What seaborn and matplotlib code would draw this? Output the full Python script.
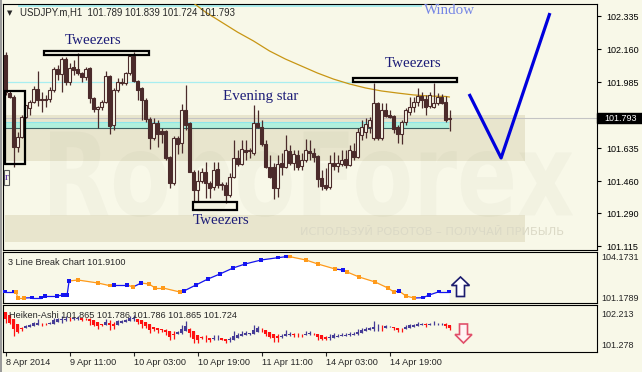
import numpy as np
import pandas as pd
import matplotlib
matplotlib.use("Agg")
import matplotlib.pyplot as plt
import seaborn as sns
from matplotlib.patches import Rectangle, Polygon, PathPatch
from matplotlib.textpath import TextPath
from matplotlib.font_manager import FontProperties
from matplotlib.transforms import Affine2D, blended_transform_factory

# ---------------- data ----------------
chart_title = "USDJPY.m,H1  101.789 101.839 101.724 101.793"
opens = [102.129, 101.927, 101.906, 101.641, 101.694, 101.800, 101.848, 101.879, 101.948, 101.895,
         101.895, 101.895, 101.943, 102.054, 102.028, 102.107, 101.985, 102.065, 102.054, 102.033,
         102.012, 102.060, 101.901, 101.842, 101.853, 101.879, 102.017, 101.758, 101.943, 101.985,
         101.980, 102.033, 102.123, 101.991, 101.954, 101.890, 101.789, 101.689, 101.768, 101.726,
         101.726, 101.588, 101.450, 101.689, 101.662, 101.837, 101.768, 101.508, 101.413, 101.461,
         101.508, 101.450, 101.429, 101.524, 101.445, 101.440, 101.387, 101.482, 101.583, 101.551,
         101.625, 101.625, 101.609, 101.768, 101.747, 101.657, 101.535, 101.535, 101.424, 101.556,
         101.535, 101.620, 101.556, 101.599, 101.540, 101.572, 101.620, 101.609, 101.593, 101.477,
         101.440, 101.429, 101.556, 101.540, 101.551, 101.577, 101.546, 101.620, 101.588, 101.705,
         101.720, 101.747, 101.689, 101.874, 101.689, 101.837, 101.811, 101.805, 101.747, 101.710,
         101.773, 101.826, 101.853, 101.879, 101.911, 101.895, 101.858, 101.853, 101.874, 101.906,
         101.879, 101.789]
highs = [102.144, 101.943, 101.917, 101.720, 101.811, 101.864, 101.890, 101.964, 102.044, 101.932,
         101.917, 101.959, 102.065, 102.076, 102.118, 102.118, 102.086, 102.102, 102.139, 102.038,
         102.065, 102.065, 101.906, 101.858, 101.890, 102.044, 102.023, 101.954, 102.007, 102.007,
         102.038, 102.129, 102.144, 101.996, 101.959, 101.901, 101.800, 101.795, 101.784, 101.742,
         101.731, 101.593, 101.699, 101.699, 101.869, 101.970, 101.773, 101.519, 101.519, 101.530,
         101.561, 101.461, 101.561, 101.561, 101.455, 101.455, 101.503, 101.678, 101.625, 101.678,
         101.678, 101.636, 101.864, 101.837, 101.784, 101.678, 101.599, 101.556, 101.599, 101.609,
         101.705, 101.652, 101.625, 101.625, 101.609, 101.683, 101.678, 101.636, 101.599, 101.519,
         101.530, 101.599, 101.614, 101.599, 101.625, 101.625, 101.652, 101.662, 101.742, 101.784,
         101.795, 101.800, 101.980, 101.879, 101.874, 101.874, 101.837, 101.811, 101.758, 101.784,
         101.848, 101.906, 101.906, 101.954, 101.932, 101.917, 101.932, 101.980, 101.927, 101.922,
         101.911, 101.839]
lows = [101.917, 101.901, 101.535, 101.614, 101.689, 101.795, 101.811, 101.874, 101.858, 101.826,
        101.853, 101.879, 101.932, 101.996, 101.932, 101.970, 101.970, 102.023, 102.023, 101.985,
        101.996, 101.874, 101.826, 101.742, 101.837, 101.874, 101.710, 101.731, 101.932, 101.970,
        101.970, 102.023, 101.985, 101.890, 101.784, 101.773, 101.630, 101.678, 101.641, 101.662,
        101.572, 101.424, 101.440, 101.604, 101.609, 101.731, 101.508, 101.349, 101.349, 101.450,
        101.371, 101.371, 101.413, 101.424, 101.413, 101.344, 101.376, 101.477, 101.540, 101.546,
        101.572, 101.583, 101.599, 101.742, 101.646, 101.530, 101.477, 101.365, 101.376, 101.493,
        101.530, 101.546, 101.519, 101.519, 101.519, 101.561, 101.572, 101.561, 101.429, 101.413,
        101.413, 101.418, 101.519, 101.508, 101.540, 101.530, 101.540, 101.572, 101.583, 101.678,
        101.689, 101.715, 101.678, 101.678, 101.678, 101.800, 101.795, 101.715, 101.662, 101.657,
        101.758, 101.811, 101.826, 101.858, 101.848, 101.811, 101.848, 101.848, 101.864, 101.869,
        101.773, 101.724]
closes = [101.932, 101.906, 101.641, 101.694, 101.800, 101.864, 101.879, 101.948, 101.890, 101.890,
          101.890, 101.943, 102.054, 102.028, 102.107, 101.985, 102.060, 102.049, 102.033, 102.012,
          102.054, 101.901, 101.842, 101.853, 101.879, 102.017, 101.752, 101.943, 101.985, 101.980,
          102.033, 102.123, 101.991, 101.943, 101.890, 101.789, 101.689, 101.768, 101.710, 101.710,
          101.583, 101.450, 101.689, 101.657, 101.837, 101.758, 101.508, 101.413, 101.461, 101.508,
          101.450, 101.424, 101.519, 101.440, 101.440, 101.387, 101.482, 101.583, 101.551, 101.630,
          101.614, 101.620, 101.768, 101.747, 101.657, 101.535, 101.482, 101.424, 101.551, 101.535,
          101.625, 101.556, 101.604, 101.535, 101.572, 101.625, 101.609, 101.588, 101.471, 101.434,
          101.424, 101.556, 101.540, 101.556, 101.572, 101.546, 101.625, 101.588, 101.720, 101.747,
          101.763, 101.784, 101.874, 101.689, 101.837, 101.805, 101.800, 101.737, 101.710, 101.773,
          101.837, 101.853, 101.879, 101.911, 101.890, 101.853, 101.917, 101.874, 101.906, 101.874,
          101.784, 101.793]

time_tick_bars = [0, 16, 32, 48, 64, 80, 96]
time_tick_labels = ["8 Apr 2014", "9 Apr 11:00", "10 Apr 03:00", "10 Apr 19:00",
                    "11 Apr 11:00", "14 Apr 03:00", "14 Apr 19:00"]
price_ticks = [102.335, 102.160, 101.985, 101.635, 101.460, 101.290, 101.115]
last_price = 101.793

ma_bars = [46, 50, 54, 58, 62, 66, 70, 74, 78, 82, 86, 90, 94, 98, 102, 106, 110, 111]
ma_values = [102.420, 102.356, 102.303, 102.250, 102.203, 102.150, 102.107, 102.070, 102.033,
             102.001, 101.975, 101.954, 101.938, 101.927, 101.917, 101.911, 101.909, 101.906]

lb_title = "3 Line Break Chart 101.9100"
lb_bars = [-0.1, 2.1, 2.6, 3.1, 4.6, 6.6, 8.9, 9.9, 12.9, 14.4, 15.4, 15.9, 18.1, 23.1, 26.1,
           27.1, 30.4, 31.9, 33.9, 35.9, 37.4, 39.4, 43.6, 44.6, 47.6, 50.6, 53.6, 56.9, 59.9,
           63.9, 68.1, 70.1, 71.1, 75.1, 78.1, 82.4, 84.4, 85.4, 88.4, 92.4, 95.6, 97.1, 98.4,
           100.1, 102.1, 104.4, 105.9, 108.4, 110.9]
lb_values = [101.575, 101.575, 101.553, 101.104, 101.104, 101.126, 101.126, 101.254, 101.254,
             101.328, 101.328, 102.377, 102.451, 102.227, 102.025, 102.077, 102.077, 101.927,
             102.227, 102.152, 101.852, 101.852, 101.553, 101.628, 102.077, 102.526, 102.900,
             103.350, 103.649, 103.949, 104.121, 104.196, 104.196, 103.949, 103.649, 103.275,
             103.200, 103.050, 102.676, 102.302, 101.852, 101.553, 101.628, 101.254, 101.104,
             101.126, 101.328, 101.575, 101.575]
lb_up = [1, 1, 0, 0, 0, 1, 1, 1, 1, 1, 1, 1, 0, 0, 0, 1, 1, 0, 1, 0, 0, 0, 0, 1, 1, 1, 1, 1, 1,
         1, 1, 1, 0, 0, 0, 0, 1, 0, 0, 0, 0, 0, 1, 0, 0, 1, 1, 1, 1]
lb_ticks = [104.1731, 101.1789]

ha_title = "Heiken-Ashi 101.865 101.786 101.786 101.865 101.724"
ha_seed_open = 102.25
ha_ticks = [102.213, 101.278]

# ---------------- style ----------------
sns.set_style("white")
plt.rcParams["font.family"] = ["Liberation Sans", "DejaVu Sans"]

BG = "#f8f8e8"
CANDLE = "#4b2b2b"
W, H = 642, 372

fig = plt.figure(figsize=(W / 100, H / 100), dpi=100, facecolor=BG)


def rect(l, t, r, b):
    return [l / W, 1 - b / H, (r - l) / W, (b - t) / H]


def fpt(x, y):
    return (x / W, 1 - y / H)


ax1 = fig.add_axes(rect(3, 4, 597, 250))
ax2 = fig.add_axes(rect(3, 252, 597, 303))
ax3 = fig.add_axes(rect(3, 305, 597, 352))
XMIN, XMAX = -0.625, 147.875
for ax in (ax1, ax2, ax3):
    ax.set_facecolor(BG)
    ax.set_xlim(XMIN, XMAX)
    for s in ax.spines.values():
        s.set_color("black")
        s.set_linewidth(0.8)
        s.set_visible(True)
    ax.yaxis.tick_right()
    ax.grid(False)
    ax.set_xlabel("")
    ax.set_ylabel("")

# left window border
fig.add_artist(Rectangle((0, 0), 2 / W, 1, transform=fig.transFigure,
                         facecolor="#9a9a9a", edgecolor="none"))

# ---------------- main panel ----------------
ax1.set_ylim(101.095, 102.399)
n = len(opens)
df = pd.DataFrame({"o": opens, "h": highs, "l": lows, "c": closes})
df["x"] = np.arange(n)
up = df.c >= df.o
lo = df[["o", "c"]].min(axis=1)
ht = (df.c - df.o).abs().clip(lower=0.004)

# watermark bands
for y0, y1 in [(101.567, 101.811), (101.137, 101.281)]:
    ax1.add_patch(Rectangle((-0.2, y0), 130.1, y1 - y0, facecolor="#e8e5cd",
                            edgecolor="none", zorder=1))

# watermark lettering
fp = FontProperties(family="DejaVu Sans", weight="bold")
tp = TextPath((0, 0), "RoboForex", size=100, prop=fp)
bb = tp.get_extents()
x0p, x1p, ytp, ybp = 50, 573, 128, 217
tr = Affine2D().translate(-bb.x0, -bb.y0).scale((x1p - x0p) / bb.width,
                                               (ybp - ytp) / bb.height).translate(x0p, H - ybp)
wm = PathPatch(tp, transform=tr, facecolor=(0.45, 0.45, 0.35, 0.045), edgecolor="none", zorder=1.5)
ax1.add_artist(wm)
wm.set_clip_path(ax1.patch)
ax1.text(300 / W, 1 - 232 / H, "ИСПОЛЬЗУЙ РОБОТОВ – ПОЛУЧАЙ ПРИБЫЛЬ", transform=fig.transFigure,
         fontsize=8.2, color="#dbd9c6", va="center", ha="left", family="DejaVu Sans", zorder=1.6)

# window band at top
ax1.add_patch(Rectangle((3.1, 102.381), 101.0, 0.017, facecolor="#aaeeee", edgecolor="none", zorder=2))
# teal support band
ax1.add_patch(Rectangle((XMIN, 101.742), 110.9 - XMIN, 0.031, facecolor="#b0f0dc",
                        edgecolor="none", zorder=2))
ax1.hlines(101.773, XMIN, 110.9, color="#8ee6ea", lw=0.8, zorder=2.1)
ax1.hlines(101.742, XMIN, 110.9, color="#3c6464", lw=0.8, zorder=2.1)
# cyan resistance line
ax1.hlines(101.985, XMIN, 112.9, color="#a8eef0", lw=0.9, zorder=2.1)
# price line
ax1.axhline(last_price, color="#c4c4c4", lw=0.8, zorder=2.2)

# moving average
sns.lineplot(x=ma_bars, y=ma_values, ax=ax1, color="#c89614", linewidth=0.9, zorder=3)

# candles
ax1.vlines(df.x, df.l, df.h, color=CANDLE, lw=0.9, zorder=5)
ax1.bar(df.x[up], ht[up], bottom=lo[up], width=0.6, facecolor=BG, edgecolor=CANDLE,
        linewidth=0.8, zorder=6)
ax1.bar(df.x[~up], ht[~up], bottom=lo[~up], width=0.6, facecolor=CANDLE, edgecolor=CANDLE,
        linewidth=0.8, zorder=6)

# pattern boxes
for (xa, xb, ya, yb) in [(-0.125, 4.875, 101.551, 101.938), (9.6, 35.9, 102.129, 102.150),
                         (86.9, 112.9, 101.985, 102.007), (46.9, 57.9, 101.307, 101.349)]:
    ax1.add_patch(Rectangle((xa, ya), xb - xa, yb - ya, facecolor="none", edgecolor="black",
                            lw=1.6, zorder=7))
ax1.add_patch(Rectangle((-0.375, 101.440), 1.25, 0.079, facecolor="none", edgecolor="#555555",
                        lw=0.8, zorder=7))
ax1.text(0.25, 101.48, "r", fontsize=8, color="#5020a0", ha="center", va="center",
         family="Liberation Serif", zorder=8)

serif = dict(family="Liberation Serif", fontsize=10.8, color="#1c1c78", ha="center",
             va="center", zorder=8)
ax1.text(21.9, 102.208, "Tweezers", **serif)
ax1.text(101.9, 102.081, "Tweezers", **serif)
ax1.text(53.9, 101.249, "Tweezers", **serif)
ax1.text(63.9, 101.911, "Evening star", **serif)
ax1.text(111.1, 102.346, "Window", family="Liberation Serif", fontsize=10.8, color="#7585e5",
         ha="center", va="baseline", zorder=8, clip_on=True)

# projection V
ax1.plot([115.9, 123.9, 136.1], [101.922, 101.583, 102.351], color="#0000dd", lw=2.3,
         solid_capstyle="butt", zorder=8)

# axis ticks
ax1.set_xticks([])
ax1.set_yticks(price_ticks)
ax1.set_yticklabels([f"{v:.3f}" for v in price_ticks])
ax1.tick_params(axis="y", which="both", right=True, left=False, direction="out", length=3,
                width=0.8, labelsize=6.5, pad=4, colors="black")

# price tag
bt = blended_transform_factory(ax1.transAxes, ax1.transData)
ax1.add_patch(Rectangle((1.0, last_price - 0.026), 45 / 594, 0.053, transform=bt,
                        facecolor="black", edgecolor="black", clip_on=False, zorder=10))
ax1.text(1.0 + 7 / 594, last_price, f"{last_price:.3f}", transform=bt, color="white",
         fontsize=6.5, va="center", ha="left", clip_on=False, zorder=11)

# title
ax1.text(*fpt(7, 13), "▼", transform=fig.transFigure, fontsize=5, family="DejaVu Sans",
         va="center", ha="left", zorder=12)
ax1.text(*fpt(20, 12.7), chart_title, transform=fig.transFigure, fontsize=6.9,
         va="center", ha="left", zorder=12)

# ---------------- line break panel ----------------
ax2.set_ylim(100.730, 104.547)
ax2.fill_between(lb_bars, lb_values, 100.730, color="white", lw=0, zorder=1)
for k in range(1, len(lb_bars)):
    ax2.plot(lb_bars[k - 1:k + 1], lb_values[k - 1:k + 1],
             color="#1414f0" if lb_up[k] else "#ff9a1a", lw=0.9, zorder=2)
lbdf = pd.DataFrame({"x": lb_bars, "v": lb_values,
                     "d": ["up" if u else "down" for u in lb_up]})
sns.scatterplot(data=lbdf, x="x", y="v", hue="d", palette={"up": "#1414f0", "down": "#ff9a1a"},
                marker="s", s=6, linewidth=0, legend=False, ax=ax2, zorder=3)
ax2.set_xlabel("")
ax2.set_ylabel("")
ax2.set_xticks([])
ax2.set_yticks(lb_ticks)
ax2.set_yticklabels([f"{v:.4f}" for v in lb_ticks])
ax2.tick_params(axis="y", right=True, left=False, length=0, labelsize=6.5, pad=3)
ax2.text(5 / 594, 0.80, lb_title, transform=ax2.transAxes, fontsize=6.6, va="center", ha="left")

# ---------------- Heiken-Ashi panel ----------------
ax3.set_ylim(101.073, 102.447)
o = np.array(opens); h = np.array(highs); l = np.array(lows); c = np.array(closes)
ha_c = (o + h + l + c) / 4
ha_o = np.empty(n)
ha_o[0] = ha_seed_open
for i in range(1, n):
    ha_o[i] = (ha_o[i - 1] + ha_c[i - 1]) / 2
ha_h = np.maximum.reduce([h, ha_o, ha_c])
ha_l = np.minimum.reduce([l, ha_o, ha_c])
ha_up = ha_c >= ha_o
cols = np.where(ha_up, "#463c96", "#ff1010")
xs = np.arange(n)
ax3.vlines(xs, ha_l, ha_h, colors=cols, lw=0.9, zorder=3)
ax3.bar(xs, np.maximum(np.abs(ha_c - ha_o), 0.012), bottom=np.minimum(ha_o, ha_c), width=0.65,
        color=cols, linewidth=0, zorder=4)
ax3.set_yticks(ha_ticks)
ax3.set_yticklabels([f"{v:.3f}" for v in ha_ticks])
ax3.tick_params(axis="y", right=True, left=False, length=0, labelsize=6.5, pad=3)
ax3.set_xticks(time_tick_bars)
ax3.set_xticklabels(time_tick_labels, ha="left")
ax3.tick_params(axis="x", bottom=True, direction="out", length=3, width=0.8, labelsize=6.6,
                pad=1.5)
ax3.text(6 / 594, 0.78, ha_title, transform=ax3.transAxes, fontsize=6.6, va="center",
         ha="left", zorder=6)

# signal arrows
up_arrow = [(460.5, 277), (469.5, 285.5), (464.5, 285.5), (464.5, 296.5), (456.5, 296.5),
            (456.5, 285.5), (451.5, 285.5)]
fig.add_artist(Polygon([fpt(*p) for p in up_arrow], closed=True, transform=fig.transFigure,
                       facecolor="white", edgecolor="#1c1c6e", lw=1.2, zorder=20))
dn_arrow = [(459.5, 324), (467.5, 324), (467.5, 334.5), (472, 334.5), (463.5, 343),
            (455, 334.5), (459.5, 334.5)]
fig.add_artist(Polygon([fpt(*p) for p in dn_arrow], closed=True, transform=fig.transFigure,
                       facecolor="#fff4f4", edgecolor="#e0506a", lw=1.2, zorder=20))

fig.savefig("out.png", dpi=100, facecolor=BG)
